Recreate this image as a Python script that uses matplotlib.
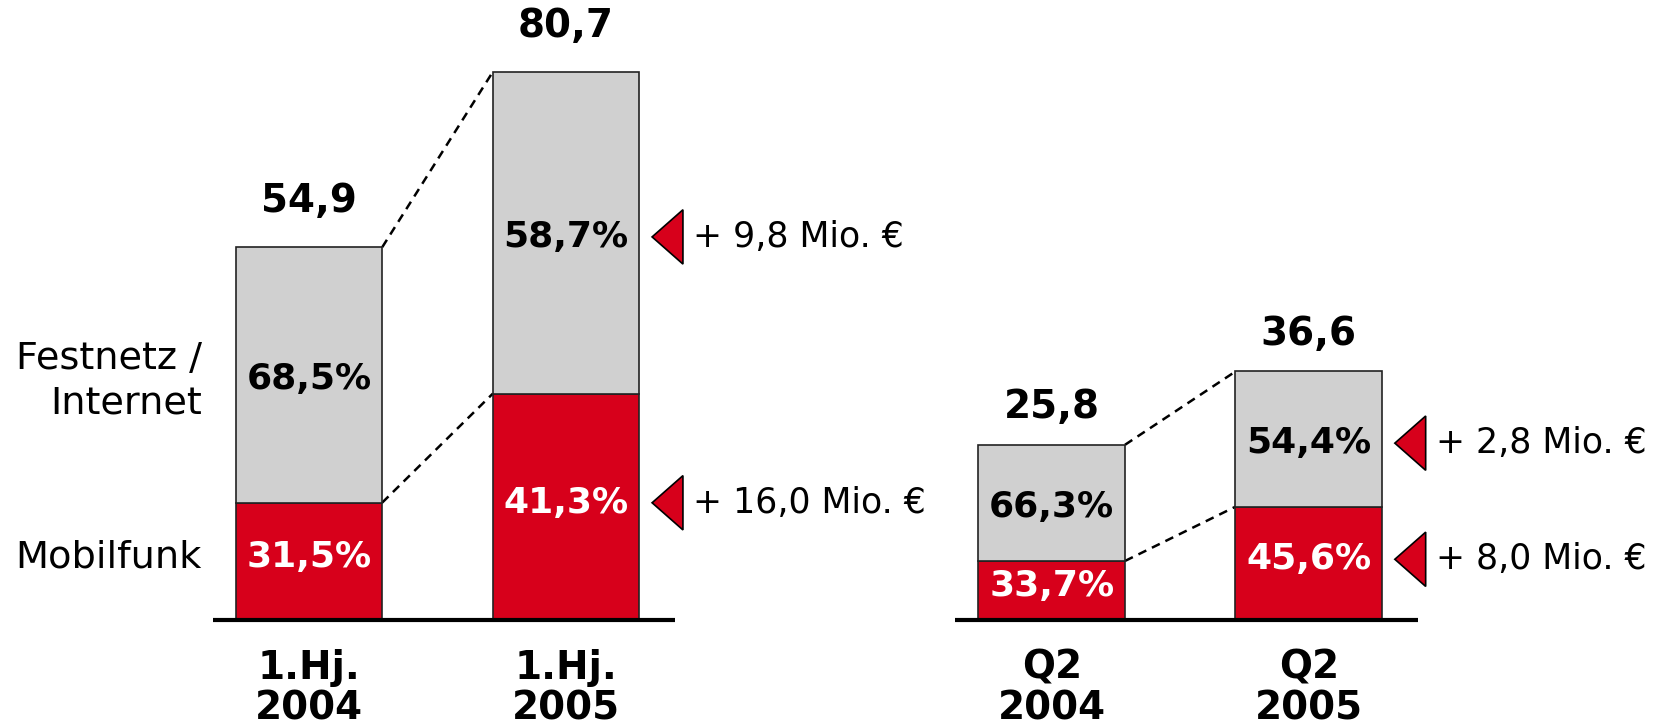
import matplotlib
matplotlib.use('Agg')
import matplotlib.pyplot as plt
import matplotlib.patches as patches

# Umsatz in Mio. EUR, je Zeitraum Gesamtwert und Anteil Mobilfunk / Festnetz
periods = ["1.Hj.\n2004", "1.Hj.\n2005", "Q2\n2004", "Q2\n2005"]
totals = [54.9, 80.7, 25.8, 36.6]
share_mobile = [31.5, 41.3, 33.7, 45.6]
share_fixed = [68.5, 58.7, 66.3, 54.4]
growth_fixed = ["+ 9,8 Mio. €", "+ 2,8 Mio. €"]
growth_mobile = ["+ 16,0 Mio. €", "+ 8,0 Mio. €"]
series_names = ["Mobilfunk", "Festnetz /\nInternet"]

RED = '#d7001b'
GREY = '#d0d0d0'

xpos = [0.0, 1.0, 2.89, 3.89]
groups = [(0, 1), (2, 3)]
bar_w = 0.57


def fmt(v, pct=False):
    s = f"{v:.1f}".replace('.', ',')
    return s + '%' if pct else s


fig = plt.figure(figsize=(16.67, 7.28), dpi=100)
ax = fig.add_axes([0, 0, 1, 1])
ax.set_xlim(-1.2023, 5.284)
ax.set_ylim(-15.9, 91.3)
ax.axis('off')

mobile = [t * p / 100 for t, p in zip(totals, share_mobile)]
fixed = [t - m for t, m in zip(totals, mobile)]

ax.bar(xpos, mobile, bar_w, color=RED, edgecolor='#222222', linewidth=1.2, zorder=2)
ax.bar(xpos, fixed, bar_w, bottom=mobile, color=GREY, edgecolor='#222222',
       linewidth=1.2, zorder=2)

# percentage labels inside the segments
for x, m, f, pm, pf in zip(xpos, mobile, fixed, share_mobile, share_fixed):
    ax.text(x, m / 2 + 0.6, fmt(pm, True), ha='center', va='center', color='white',
            fontsize=26, fontweight='bold', zorder=3)
    ax.text(x, m + f / 2 - 0.6, fmt(pf, True), ha='center', va='center',
            color='black', fontsize=26, fontweight='bold', zorder=3)

# totals above the bars, category names below the baseline
top_pad = [25, 25, 19, 19]
for x, t, p, pad in zip(xpos, totals, periods, top_pad):
    ax.annotate(fmt(t), (x, t), xytext=(0, pad), textcoords='offset points',
                ha='center', va='baseline', fontsize=28, fontweight='bold')
    ax.annotate(p, (x, 0), xytext=(0, -49), textcoords='offset points',
                ha='center', va='center', fontsize=28, fontweight='bold',
                linespacing=1.08)

# baselines and dashed connectors per group
for gi, (a, b) in enumerate(groups):
    ax.plot([xpos[a] - bar_w / 2 - 0.09, xpos[b] + bar_w / 2 + 0.14], [0, 0],
            color='black', lw=3, solid_capstyle='butt', zorder=4)
    for ya, yb in ((totals[a], totals[b]), (mobile[a], mobile[b])):
        ax.plot([xpos[a] + bar_w / 2, xpos[b] - bar_w / 2], [ya, yb],
                color='black', lw=1.8, ls=(0, (3.5, 2.5)), zorder=1)

    # growth markers to the right of the second bar
    right = xpos[b] + bar_w / 2
    for y, label in ((mobile[b] + fixed[b] / 2 - 0.6, growth_fixed[gi]),
                     (mobile[b] / 2 + 0.6, growth_mobile[gi])):
        tip = right + 0.05
        base = tip + 0.12
        tri = patches.Polygon([(tip, y), (base, y + 4.0), (base, y - 4.0)],
                              closed=True, facecolor=RED, edgecolor='black',
                              linewidth=1.2, zorder=3)
        ax.add_patch(tri)
        ax.text(base + 0.04, y, label, ha='left', va='center', fontsize=25)

# series names left of the first bar
ax.text(-0.416, mobile[0] / 2 + 0.6, series_names[0], ha='right', va='center',
        fontsize=27.5)
ax.text(-0.416, mobile[0] + fixed[0] / 2 - 1.0, series_names[1], ha='right',
        va='center', fontsize=27.5, multialignment='right', linespacing=1.3)

fig.savefig('out.png', dpi=100)
plt.close(fig)
